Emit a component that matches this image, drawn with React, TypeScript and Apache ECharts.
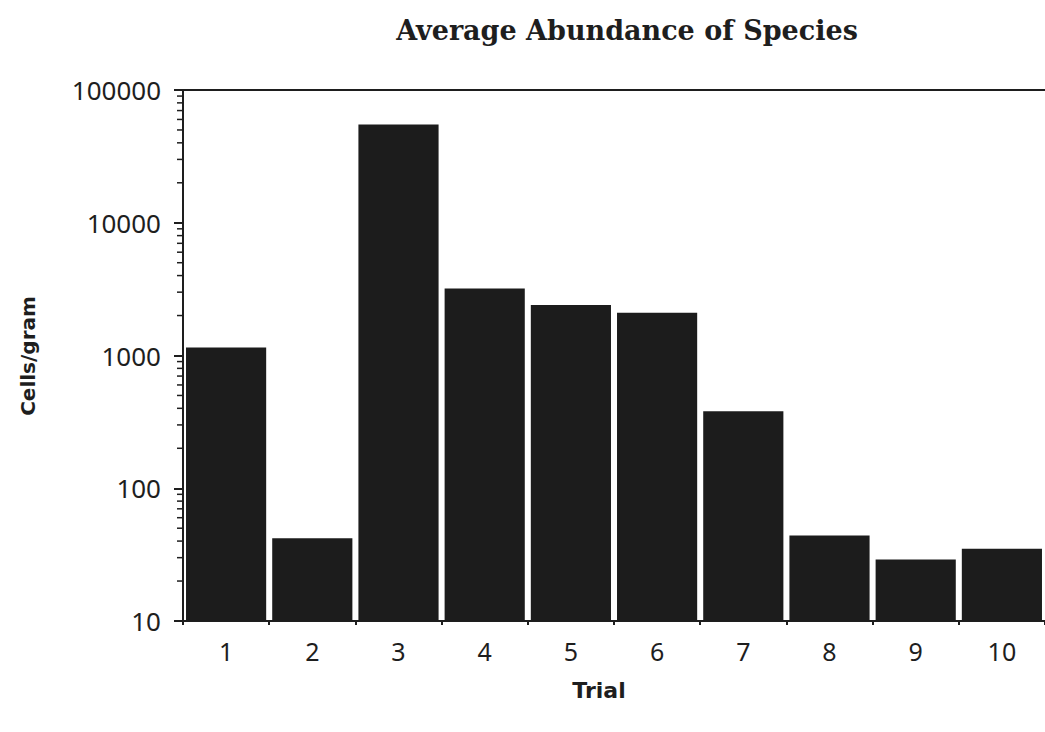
import React, { useEffect, useRef } from "react";
import * as echarts from "echarts";

const categories = ["1", "2", "3", "4", "5", "6", "7", "8", "9", "10"];
const cellsPerGram = [1150, 42, 55000, 3200, 2400, 2100, 380, 44, 29, 35];
const yTickLabels = [10, 100, 1000, 10000, 100000];
const minorTickValues = [
  20, 30, 40, 50, 60, 70, 80, 90,
  200, 300, 400, 500, 600, 700, 800, 900,
  2000, 3000, 4000, 5000, 6000, 7000, 8000, 9000,
  20000, 30000, 40000, 50000, 60000, 70000, 80000, 90000,
];

export default function App() {
  const ref = useRef<HTMLDivElement>(null);
  useEffect(() => {
    if (!ref.current) return;
    const chart = echarts.init(ref.current, null, { renderer: "svg" });
    const ink = "#1e1e1e";
    chart.setOption({
      animation: false,
      backgroundColor: "#ffffff",
      title: {
        text: "Average Abundance of Species",
        left: 622,
        textAlign: "center",
        top: 12,
        textStyle: {
          fontFamily: "DejaVu Serif",
          fontWeight: "bold",
          fontSize: 27,
          color: ink,
        },
      },
      grid: { left: 183, right: -11, top: 90, bottom: 111, containLabel: false },
      xAxis: [
        {
          type: "category",
          data: categories,
          position: "bottom",
          axisLine: { show: true, lineStyle: { color: ink, width: 2 } },
          axisTick: { show: true, length: 4, alignWithLabel: false, lineStyle: { color: ink, width: 2 } },
          axisLabel: {
            margin: 17,
            fontFamily: "Noto Sans",
            fontSize: 25,
            color: ink,
          },
          splitLine: { show: false },
        },
        {
          type: "category",
          data: categories,
          position: "top",
          axisLine: { show: true, lineStyle: { color: ink, width: 2 } },
          axisTick: { show: false },
          axisLabel: { show: false },
          splitLine: { show: false },
        },
      ],
      yAxis: {
        type: "log",
        logBase: 10,
        min: yTickLabels[0],
        max: yTickLabels[yTickLabels.length - 1],
        axisLine: { show: true, lineStyle: { color: ink, width: 2 } },
        axisTick: { show: true, length: 9, lineStyle: { color: ink, width: 2 } },
        axisLabel: {
          margin: 22,
          fontFamily: "Noto Sans",
          fontSize: 26,
          color: ink,
          formatter: (v: number) => String(Math.round(v)),
        },
        splitLine: { show: false },
      },
      graphic: [
        {
          type: "text",
          x: 28,
          y: 356,
          rotation: Math.PI / 2,
          style: {
            text: "Cells/gram",
            fontFamily: "DejaVu Sans",
            fontWeight: "bold",
            fontSize: 20,
            fill: ink,
            textAlign: "center",
            textVerticalAlign: "middle",
          },
        },
        {
          type: "text",
          x: 599,
          y: 690,
          style: {
            text: "Trial",
            fontFamily: "DejaVu Sans",
            fontWeight: "bold",
            fontSize: 22,
            fill: ink,
            textAlign: "center",
            textVerticalAlign: "middle",
          },
        },
      ],
      series: [
        {
          type: "bar",
          data: cellsPerGram,
          barCategoryGap: "7%",
          itemStyle: { color: "#1c1c1c" },
          silent: true,
        },
        {
          type: "custom",
          silent: true,
          clip: false,
          z: 10,
          encode: { x: 0, y: 1 },
          data: minorTickValues.map((v) => [0, v]),
          renderItem: (params: any, api: any) => {
            const pt = api.coord([api.value(0), api.value(1)]);
            const x0 = (params.coordSys as any).x;
            return {
              type: "line",
              shape: { x1: x0 - 6, y1: pt[1], x2: x0, y2: pt[1] },
              style: { stroke: ink, lineWidth: 1.5 },
            };
          },
        },
      ],
    });
    return () => chart.dispose();
  }, []);
  return (
    <div
      ref={ref}
      style={{ position: "fixed", left: 0, top: 0, width: 1045, height: 732 }}
    />
  );
}
